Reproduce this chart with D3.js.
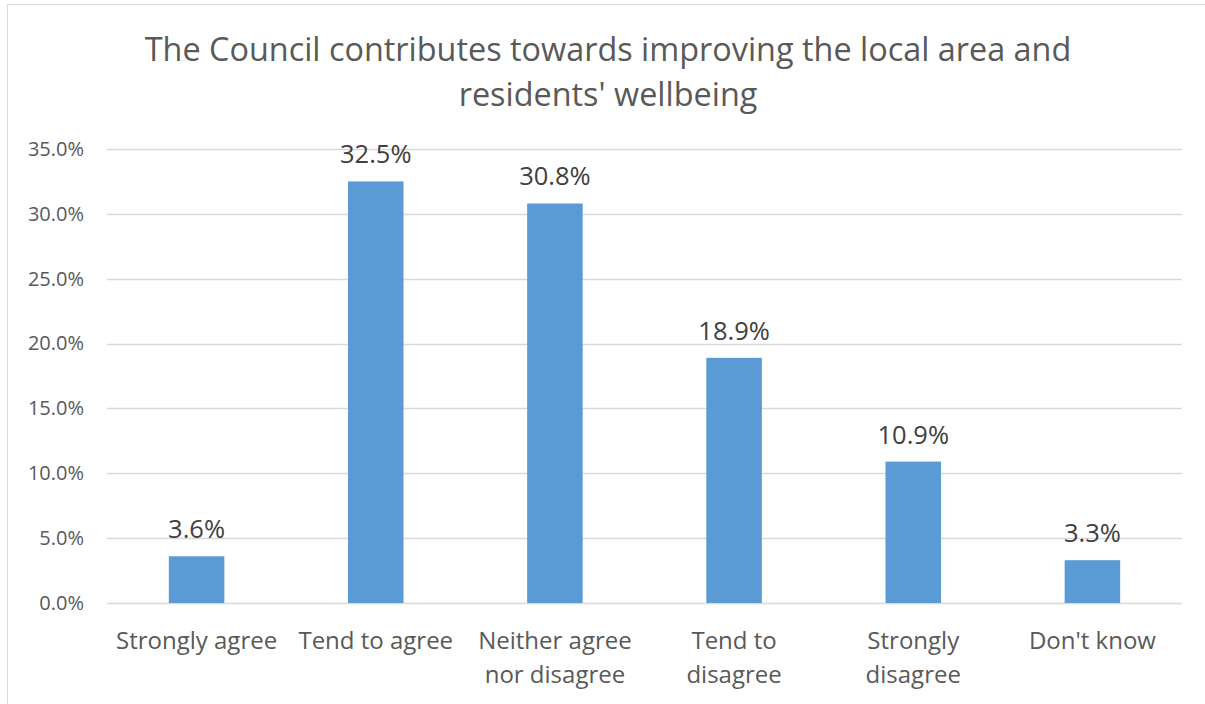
<!DOCTYPE html>
<html lang="en">
<head>
<meta charset="utf-8">
<title>Council wellbeing chart</title>
<script src="https://cdn.jsdelivr.net/npm/d3@7"></script>
<style>
	body { margin: 0; background: white; font-family: "Open Sans", sans-serif; }
	svg { display: block; }
</style>
</head>
<body>
<svg id="chart" width="1205" height="704"></svg>
<script>
// data
var categories = ["Strongly agree", "Tend to agree", "Neither agree\nnor disagree", "Tend to\ndisagree", "Strongly\ndisagree", "Don't know"]
var values = [3.6, 32.5, 30.8, 18.9, 10.9, 3.3]
var yTicks = [0, 5, 10, 15, 20, 25, 30, 35]
var titleLines = ["The Council contributes towards improving the local area and", "residents' wellbeing"]

var svg = d3.select("#chart")

// outer chart border (runs off the right and bottom edge)
svg.append("rect")
	.attr("x", 7.5).attr("y", 4.5)
	.attr("width", 1220).attr("height", 720)
	.attr("fill", "white").attr("stroke", "#d9d9d9").attr("stroke-width", 1)

var plotL = 107, plotR = 1182, plotT = 149, plotB = 603

var x = d3.scaleBand().domain(categories).range([plotL, plotR]).paddingInner(0.69).paddingOuter(0.345)
var y = d3.scaleLinear().domain([0, 35]).range([plotB, plotT])

// title
svg.append("g").selectAll("text")
	.data(titleLines)
	.enter().append("text")
	.attr("x", 608)
	.attr("y", function(d, i) { return 61 + i * 45 })
	.attr("text-anchor", "middle")
	.attr("font-size", "32.4px")
	.attr("fill", "#595959")
	.text(function(d) { return d })

// gridlines
svg.append("g").selectAll("line")
	.data(yTicks)
	.enter().append("line")
	.attr("x1", plotL).attr("x2", plotR)
	.attr("y1", function(d) { return Math.round(y(d)) + 0.5 })
	.attr("y2", function(d) { return Math.round(y(d)) + 0.5 })
	.attr("stroke", "#d9d9d9").attr("stroke-width", 1.3)

// y axis labels
var yAxis = d3.axisLeft(y).tickValues(yTicks).tickSize(0).tickPadding(0)
	.tickFormat(function(d) { return d.toFixed(1) + "%" })
var ya = svg.append("g").attr("transform", "translate(84,0)").call(yAxis)
ya.select(".domain").remove()
ya.selectAll("text").attr("font-family", "Open Sans").attr("font-size", "20px").attr("fill", "#595959")

// bars
svg.append("g").selectAll("rect")
	.data(values)
	.enter().append("rect")
	.attr("x", function(d, i) { return x(categories[i]) })
	.attr("width", x.bandwidth())
	.attr("y", function(d) { return y(d) })
	.attr("height", function(d) { return plotB - y(d) })
	.attr("fill", "#5b9bd5")

// value labels
svg.append("g").selectAll("text")
	.data(values)
	.enter().append("text")
	.attr("x", function(d, i) { return x(categories[i]) + x.bandwidth() / 2 })
	.attr("y", function(d) { return y(d) - 18 })
	.attr("text-anchor", "middle")
	.attr("font-size", "25.5px")
	.attr("fill", "#404040")
	.text(function(d) { return d.toFixed(1) + "%" })

// category labels, pre-wrapped like the reference
var xAxis = d3.axisBottom(x).tickSize(0).tickFormat("")
var xa = svg.append("g").attr("transform", "translate(0," + plotB + ")").call(xAxis)
xa.select(".domain").remove()
xa.selectAll(".tick").each(function(d) {
	var t = d3.select(this).append("text")
		.attr("text-anchor", "middle")
		.attr("font-family", "Open Sans")
		.attr("font-size", "24px")
		.attr("fill", "#595959")
	d.split("\n").forEach(function(line, i) {
		t.append("tspan").attr("x", 0).attr("y", 46 + i * 34).text(line)
	})
})
</script>
</body>
</html>
